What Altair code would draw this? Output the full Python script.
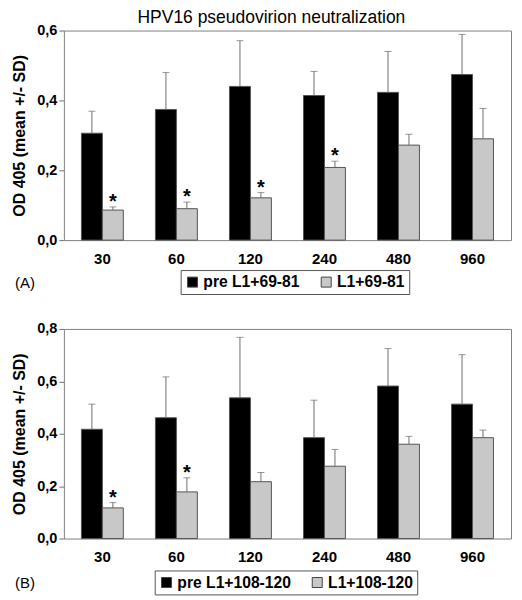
import altair as alt
import pandas as pd

doses = ["30", "60", "120", "240", "480", "960"]

# Panel A
a_names = ["pre L1+69-81", "L1+69-81"]
a_pre = [0.306, 0.374, 0.440, 0.414, 0.423, 0.474]
a_pre_sd = [0.063, 0.106, 0.131, 0.069, 0.117, 0.115]
a_l1 = [0.086, 0.090, 0.121, 0.208, 0.272, 0.290]
a_l1_sd = [0.009, 0.019, 0.015, 0.018, 0.031, 0.087]
a_sig = [1, 1, 1, 1, 0, 0]

# Panel B
b_names = ["pre L1+108-120", "L1+108-120"]
b_pre = [0.417, 0.461, 0.537, 0.385, 0.582, 0.513]
b_pre_sd = [0.096, 0.156, 0.231, 0.143, 0.143, 0.189]
b_l1 = [0.117, 0.178, 0.217, 0.276, 0.360, 0.385]
b_l1_sd = [0.020, 0.054, 0.035, 0.064, 0.030, 0.029]
b_sig = [1, 1, 0, 0, 0, 0]

FONT = "Arial, Liberation Sans, Helvetica, sans-serif"
GRAY = "#c8c8c8"
LINE = "#6e6e6e"
BW = 21  # bar width in px


def panel(pre, pre_sd, l1, l1_sd, sig, names, ymax, tag, lx, ly):
    rows = []
    for i, d in enumerate(doses):
        rows.append(dict(dose=d, series=names[0], grp=0, mean=pre[i], upper=pre[i] + pre_sd[i], star=0))
        rows.append(dict(dose=d, series=names[1], grp=1, mean=l1[i], upper=l1[i] + l1_sd[i], star=sig[i]))
    df = pd.DataFrame(rows)

    x = alt.X("dose:N", sort=doses,
              scale=alt.Scale(paddingInner=0, paddingOuter=0.02),
              axis=alt.Axis(title=None, labelAngle=0, ticks=False, domain=False,
                            labelPadding=11, labelFontWeight="bold", labelFontSize=15,
                            labelFont=FONT, labelColor="black"))
    yticks = [round(v * 0.2, 1) for v in range(int(round(ymax / 0.2)) + 1)]
    y = alt.Y("mean:Q", scale=alt.Scale(domain=[0, ymax], nice=False),
              axis=alt.Axis(title="OD 405 (mean +/- SD)", values=yticks, grid=False,
                            domain=False, tickSize=5, tickColor=LINE,
                            labelExpr="replace(format(datum.value, '.1f'), '.', ',')",
                            labelFontWeight="bold", labelFontSize=14.5, labelFont=FONT,
                            labelColor="black", labelPadding=2,
                            titleFont=FONT, titleFontSize=16, titleFontWeight="bold",
                            titleColor="black", titlePadding=9))
    color = alt.Color("series:N", sort=names,
                      scale=alt.Scale(domain=names, range=["black", GRAY]),
                      legend=alt.Legend(orient="none", legendX=lx, legendY=ly,
                                        direction="horizontal", title=None,
                                        symbolType="square", symbolSize=100,
                                        symbolStrokeColor="#444", symbolStrokeWidth=1,
                                        labelFont=FONT, labelFontSize=15.7,
                                        labelFontWeight="bold", labelColor="black",
                                        strokeColor="#555", padding=4,
                                        columnPadding=18, labelOffset=3))

    layers = []
    for g, off in ((0, -BW / 2), (1, BW / 2)):
        base = alt.Chart(df).transform_filter(f"datum.grp == {g}").encode(x=x)
        layers.append(base.mark_bar(width=BW, xOffset=off, stroke="#555", strokeWidth=1)
                      .encode(y=y, color=color))
        layers.append(base.mark_rule(color=LINE, strokeWidth=1, xOffset=off)
                      .encode(y="mean:Q", y2="upper:Q"))
        layers.append(base.mark_tick(color=LINE, size=7, thickness=1, orient="horizontal",
                                     xOffset=off).encode(y="upper:Q"))
        if g == 1:
            layers.append(base.transform_filter("datum.star == 1").mark_text(
                text="*", font=FONT, fontSize=20, fontWeight="bold", baseline="alphabetic",
                dy=1, xOffset=off, color="black").encode(y="upper:Q"))

    return alt.layer(*layers).properties(
        width=448, height=210,
        title=alt.TitleParams(tag, orient="bottom", anchor="start", frame="group",
                              dx=-49, offset=-19,
                              fontSize=15, fontWeight="normal", font=FONT, color="black"),
    )


pa = panel(a_pre, a_pre_sd, a_l1, a_l1_sd, a_sig, a_names, 0.6, "(A)", 117, 240)
pb = panel(b_pre, b_pre_sd, b_l1, b_l1_sd, b_sig, b_names, 0.8, "(B)", 91, 242)

chart = alt.vconcat(pa, pb, spacing=25).resolve_scale(color="independent").properties(
    title=alt.TitleParams("HPV16 pseudovirion neutralization", fontSize=17.5,
                          fontWeight="normal", font=FONT, color="black", anchor="middle",
                          offset=-4, dx=10),
    padding={"left": 3, "top": 0, "right": 2, "bottom": 0},
).configure_view(stroke="#808080", strokeWidth=1)

chart.save("out.html", embed_options={"renderer": "svg", "actions": False})
